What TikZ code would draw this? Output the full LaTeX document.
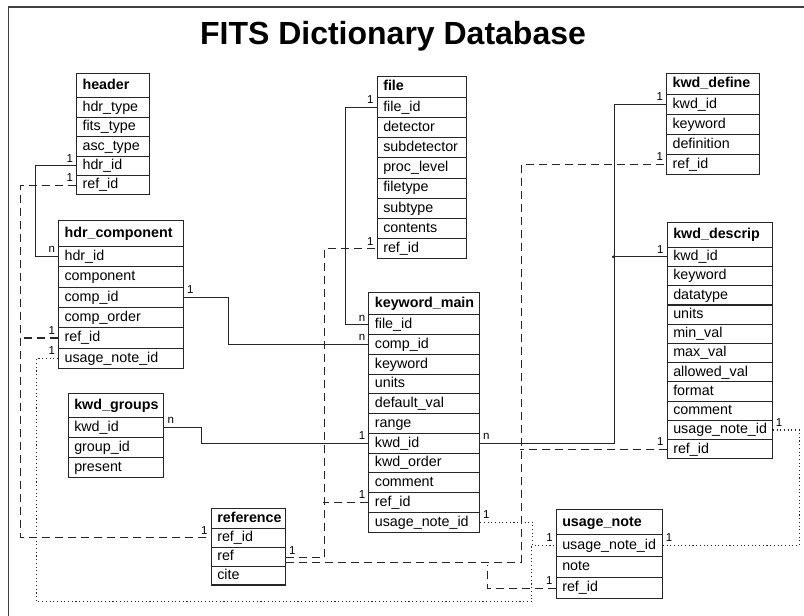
\documentclass[tikz,border=0pt]{standalone}
\usepackage{fontspec}
\setmainfont{Liberation Sans}

\newcommand\fieldfont{\fontsize{14.3}{16}\selectfont}
\newcommand\cardfont{\fontsize{11.5}{12}\selectfont}
\newcommand\titlefont{\fontsize{32}{36}\selectfont\bfseries}

\tikzset{
  tabcell/.style={draw=black!85, line width=1.1pt, anchor=north west,
    inner xsep=6pt, inner ysep=0pt, text height=10.5pt, text depth=3pt,
    align=left, font=\fieldfont},
  tabtitle/.style={tabcell, font=\fieldfont\bfseries},
  tabrow/.style={tabcell},
  rel/.style={line width=1.2pt, draw=black!85},
  dashrel/.style={rel, dash pattern=on 8pt off 5pt},
  dotrel/.style={line width=1.1pt, draw=black!85, dash pattern=on 1.1pt off 2.6pt},
  card/.style={font=\cardfont, inner xsep=2.5pt, inner ysep=3pt},
  frame/.style={line width=1.3pt, draw=black!75},
}

% \dbtable{name}{x}{y top}{width}{title height}{row height}{title}{key/text list}
\newcommand\dbtable[8]{%
  \pgfmathsetmacro\tabtw{#4-12}%
  \node[tabtitle, text width=\tabtw pt, minimum height=#5 pt] (#1) at (#2,#3) {#7};%
  \foreach \key/\txt [count=\i] in {#8} {%
    \pgfmathsetmacro\rowy{#3+#5+(\i-1)*#6}%
    \node[tabrow, text width=\tabtw pt, minimum height=#6 pt] (#1-\key) at (#2,\rowy) {\txt};%
  }%
}

\begin{document}
\begin{tikzpicture}[x=1pt, y=-1pt]
\useasboundingbox (0,0) rectangle (804,616);

% outer frame (left and top edges) and heading
\draw[frame] (8.5,616) -- (8.5,7) -- (804,7);
\node[font=\titlefont] (title) at (393,36) {FITS Dictionary Database};

% tables
\dbtable{header}{76}{73.3}{73}{24}{19.4}{header}
  {hdrtype/hdr\_type, fitstype/fits\_type, asctype/asc\_type, hdrid/hdr\_id, refid/ref\_id}
\dbtable{hdrcomp}{58}{220}{125}{25.7}{20.4}{hdr\_component}
  {hdrid/hdr\_id, component/component, compid/comp\_id, comporder/comp\_order, refid/ref\_id, unoteid/usage\_note\_id}
\dbtable{file}{376.7}{76}{89.3}{20.7}{20.2}{file}
  {fileid/file\_id, detector/detector, subdetector/subdetector, proclevel/proc\_level, filetype/filetype, subtype/subtype, contents/contents, refid/ref\_id}
\dbtable{kwmain}{368.3}{291.7}{110.7}{22.6}{19.76}{keyword\_main}
  {fileid/file\_id, compid/comp\_id, keyword/keyword, units/units, defval/default\_val, range/range, kwdid/kwd\_id, kwdorder/kwd\_order, comment/comment, refid/ref\_id, unoteid/usage\_note\_id}
\dbtable{define}{666}{72.7}{93}{21.3}{20}{kwd\_define}
  {kwdid/kwd\_id, keyword/keyword, definition/definition, refid/ref\_id}
\dbtable{descrip}{666.7}{221.7}{105}{25}{19.24}{kwd\_descrip}
  {kwdid/kwd\_id, keyword/keyword, datatype/datatype, units/units, minval/min\_val, maxval/max\_val, allowed/allowed\_val, format/format, comment/comment, unoteid/usage\_note\_id, refid/ref\_id}
\dbtable{groups}{67.7}{393.3}{95.6}{23.4}{20}{kwd\_groups}
  {kwdid/kwd\_id, groupid/group\_id, present/present}
\dbtable{reference}{210.7}{507.7}{74.3}{20}{18.9}{reference}
  {refid/ref\_id, ref/ref, cite/cite}
\dbtable{unote}{555.7}{509.3}{106}{25}{21.3}{usage\_note}
  {unoteid/usage\_note\_id, note/note, refid/ref\_id}

% key relations (solid)
\draw[rel] (header-hdrid.west) node[card, above left]{1} -- ++(-40.3,0)
  |- (hdrcomp-hdrid.west) node[card, above left]{n};
\draw[rel] (hdrcomp-compid.east) node[card, above right]{1} -- ++(44.7,0)
  |- (kwmain-compid.west) node[card, above left]{n};
\draw[rel] (file-fileid.west) node[card, above left]{1} -- ++(-31,0)
  |- (kwmain-fileid.west) node[card, above left]{n};
\draw[rel] (groups-kwdid.east) node[card, above right]{n} -- ++(37,0)
  |- (kwmain-kwdid.west) node[card, above left]{1};
\draw[rel] (kwmain-kwdid.east) node[card, above right]{n} -- ++(134.3,0)
  |- (define-kwdid.west) node[card, above left]{1};
\draw[rel] (descrip-kwdid.west) node[card, above left]{1} -- ++(-53.4,0);
\fill[black!85] (descrip-kwdid.west) ++(-53.4,0) circle (1.5pt);

% reference relations (dashed)
\draw[dashrel] (header-refid.west) node[card, above left]{1} -- ++(-55.3,0)
  |- (reference-refid.west) node[card, above left]{1};
\draw[dashrel] (hdrcomp-refid.west) node[card, above left]{1} -- ++(-37.3,0);
\draw[dashrel] ([yshift=-1pt]reference-ref.east) node[card, above right]{1} -- ++(38.3,0)
  |- (file-refid.west) node[card, above left]{1};
\draw[dashrel] (kwmain-refid.west) node[card, above left]{1} -- ++(-45,0);
\draw[dashrel] ([yshift=-5.5pt]reference-ref.east) -- ++(235,0)
  |- (define-refid.west) node[card, above left]{1};
\draw[dashrel] (descrip-refid.west) node[card, above left]{1} -- ++(-146.7,0);
\draw[dashrel] (unote-refid.west) node[card, above left]{1} -- ++(-68.4,0) -- ++(0,-23.6);

% usage note relations (dotted)
\draw[dotrel] (kwmain-unoteid.east) node[card, above right]{1} -- ++(52.7,0)
  |- (unote-unoteid.west) node[card, above left]{1};
\draw[dotrel] (hdrcomp-unoteid.west) node[card, above left]{1} -- ++(-21.3,0)
  |- ++(495,243.4) -- ++(0,-57);
\draw[dotrel] (descrip-unoteid.east) node[card, above right]{1} -- ++(26.6,0)
  |- (unote-unoteid.east) node[card, above right]{1};
\end{tikzpicture}
\end{document}
